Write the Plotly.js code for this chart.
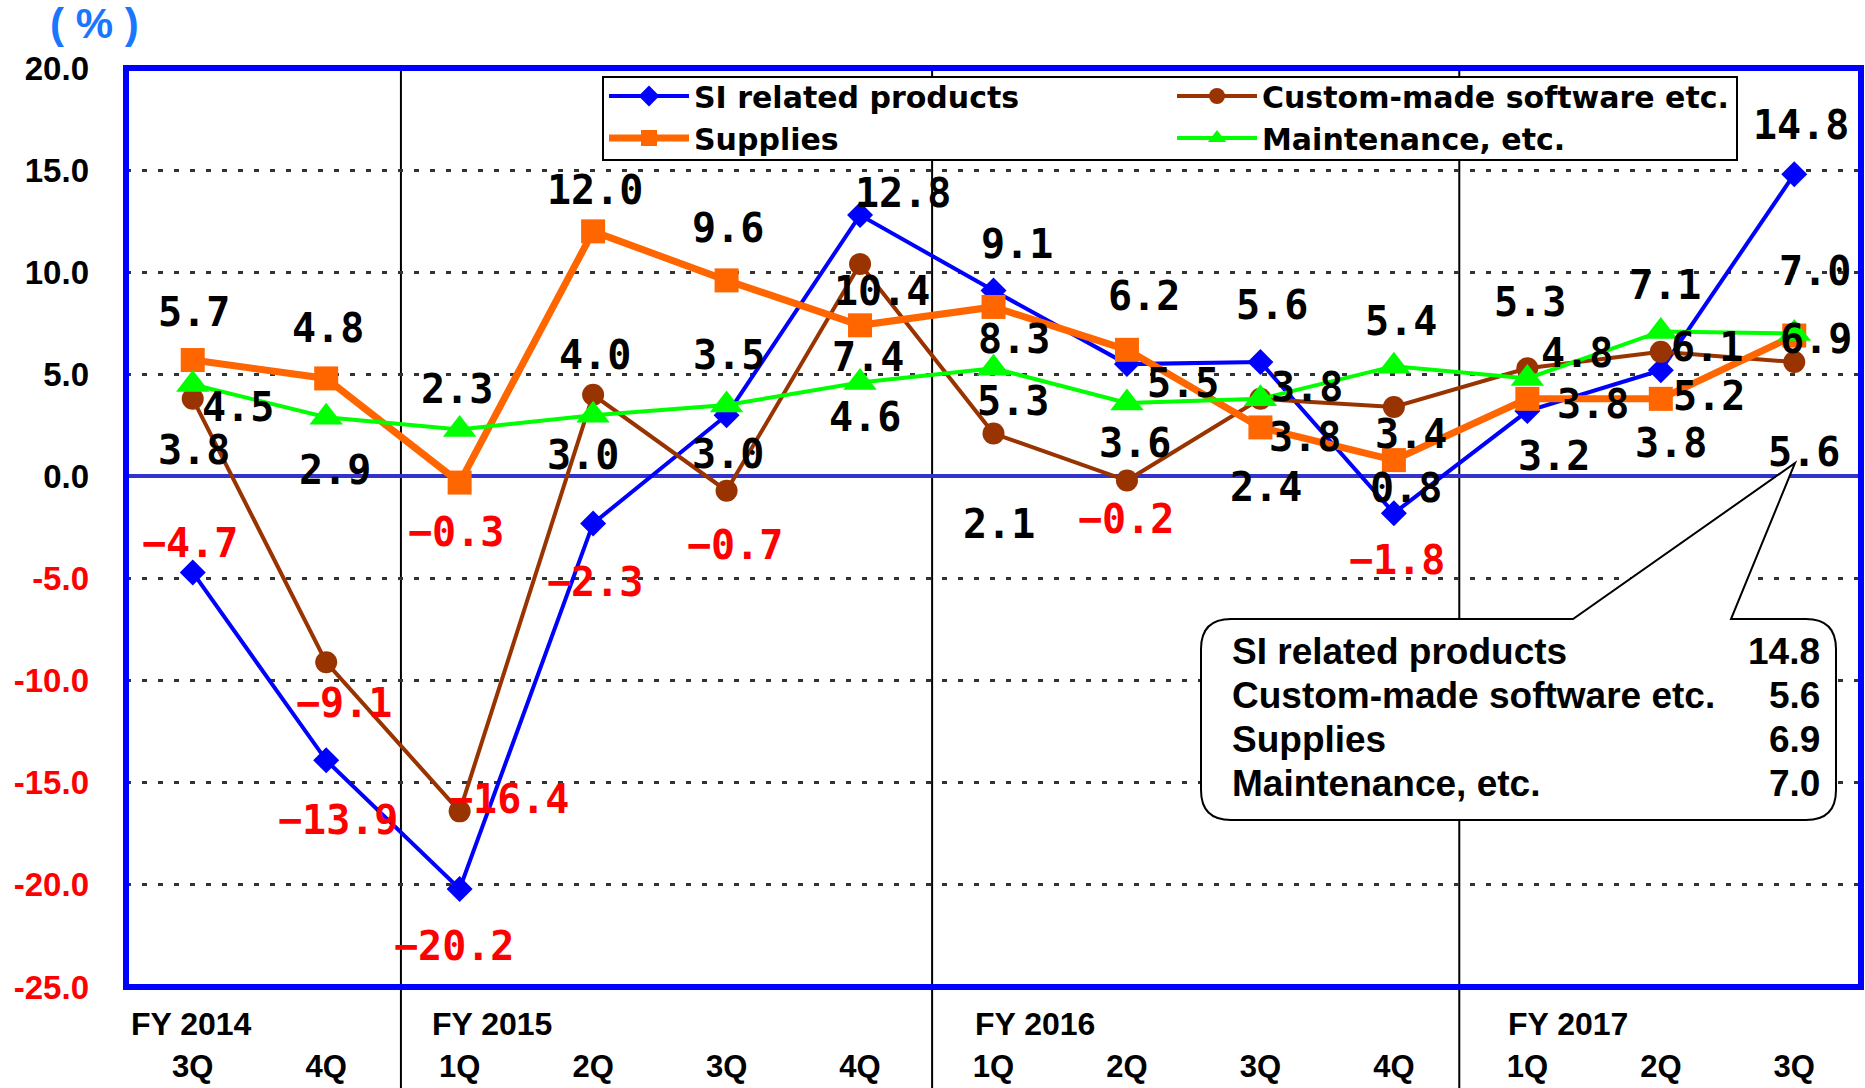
<!DOCTYPE html>
<html>
<head>
<meta charset="utf-8">
<script src="https://cdn.plot.ly/plotly-3.0.1.min.js"></script>
<style>
  html, body { margin: 0; padding: 0; background: #fff; }
  #chart { width: 1865px; height: 1088px; }
</style>
</head>
<body>
<div id="chart"></div>
<script>
"use strict";

//DATA
const quarters = ['3Q', '4Q', '1Q', '2Q', '3Q', '4Q', '1Q', '2Q', '3Q', '4Q', '1Q', '2Q', '3Q'];
const fiscalYears = ['FY 2014', 'FY 2015', 'FY 2016', 'FY 2017'];
const fyFirstQuarter = [0, 2, 6, 10];

const siProducts  = [-4.7, -13.9, -20.2, -2.3, 3.0, 12.8, 9.1, 5.5, 5.6, -1.8, 3.2, 5.2, 14.8];
const customSoft  = [3.8, -9.1, -16.4, 4.0, -0.7, 10.4, 2.1, -0.2, 3.8, 3.4, 5.3, 6.1, 5.6];
const supplies    = [5.7, 4.8, -0.3, 12.0, 9.6, 7.4, 8.3, 6.2, 2.4, 0.8, 3.8, 3.8, 6.9];
const maintenance = [4.5, 2.9, 2.3, 3.0, 3.5, 4.6, 5.3, 3.6, 3.8, 5.4, 4.8, 7.1, 7.0];

const yTicks = [20, 15, 10, 5, 0, -5, -10, -15, -20, -25];

//LABEL OFFSETS (pixels, [dx, dy] with dy down)
const siOff = [[-3,-29],[12,60],[-6,57],[2,59],[1,39],[43,-22],[23,-47],[56,19],[12,-57],[3,47],[27,45],[48,26],[7,-49]];
const csOff = [[1,51],[18,41],[49,-12],[2,-40],[8,54],[22,27],[5,90],[-1,38],[47,-12],[17,27],[3,-66],[46,-5],[10,90]];
const spOff = [[1,-48],[2,-50],[-4,49],[2,-41],[1,-52],[8,32],[20,32],[17,-54],[6,60],[12,28],[66,5],[10,44],[22,3]];
const mtOff = [[45,22],[9,53],[-3,-40],[-10,40],[2,-50],[5,34],[19,33],[8,40],[45,38],[7,-45],[50,-25],[4,-46],[21,-62]];

//GEOMETRY
const W = 1865, H = 1088;
const M = {l: 126, r: 4, t: 68, b: 101, autoexpand: false};
const PW = W - M.l - M.r, PH = H - M.t - M.b;
function px(x){ return (x - M.l) / PW; }
function py(y){ return (H - M.b - y) / PH; }

const FONT = 'Liberation Sans, Arial, sans-serif';
const WIDE = 'DejaVu Sans, Liberation Sans, sans-serif';
const MONO = 'DejaVu Sans Mono, Liberation Mono, monospace';

function fmt(v){
	return (v < 0 ? '\u2212' + Math.abs(v).toFixed(1) : v.toFixed(1));
}

function series(name, y, color, width, symbol, size, legend){
	return {
		name: name,
		x: y.map((v, i) => i),
		y: y,
		type: 'scatter',
		mode: 'lines+markers',
		line: {color: color, width: width},
		marker: {color: color, symbol: symbol, size: size},
		legend: legend,
		hoverinfo: 'skip'
	};
}

function labels(y, off){
	return y.map((v, i) => ({
		x: i, y: v, xref: 'x', yref: 'y',
		text: fmt(v), showarrow: false,
		xshift: off[i][0], yshift: -off[i][1],
		font: {family: MONO, size: 40, weight: 'bold', color: (v < 0 ? '#ff0000' : '#000000')}
	}));
}

const data = [
	series('SI related products', siProducts, '#0000ff', 4, 'diamond', 20, 'legend'),
	series('Custom-made software etc.', customSoft, '#993300', 4, 'circle', 22, 'legend2'),
	series('Supplies', supplies, '#ff6600', 7, 'square', 24, 'legend'),
	series('Maintenance, etc.', maintenance, '#00ff00', 4, 'triangle-up', 29, 'legend2')
];

let annotations = [];
annotations = annotations.concat(labels(siProducts, siOff), labels(customSoft, csOff),
	labels(supplies, spOff), labels(maintenance, mtOff));

//FY labels
const fyShift = [-64, -30, -21, -21];
fiscalYears.forEach((t, i) => {
	annotations.push({
		x: fyFirstQuarter[i], y: py(1024), xref: 'x', yref: 'paper',
		xanchor: 'left', yanchor: 'middle', xshift: fyShift[i],
		text: t, showarrow: false,
		font: {family: FONT, size: 32, weight: 'bold', color: '#000'}
	});
});

//unit
annotations.push({
	x: px(94), y: py(24), xref: 'paper', yref: 'paper',
	xanchor: 'center', yanchor: 'middle',
	text: '( % )', showarrow: false,
	font: {family: FONT, size: 42, weight: 'bold', color: '#1a75ff'}
});

//callout box with the latest values
const last = siProducts.length - 1;
const boxRows = [
	['SI related products', siProducts[last]],
	['Custom-made software etc.', customSoft[last]],
	['Supplies', supplies[last]],
	['Maintenance, etc.', maintenance[last]]
];
const rowY = [651, 695, 739, 783];
boxRows.forEach((r, i) => {
	annotations.push({
		x: px(1230), y: py(rowY[i]), xref: 'paper', yref: 'paper',
		xanchor: 'left', yanchor: 'middle', text: r[0], showarrow: false,
		font: {family: FONT, size: 37, weight: 'bold', color: '#000'}
	});
	annotations.push({
		x: px(1822), y: py(rowY[i]), xref: 'paper', yref: 'paper',
		xanchor: 'right', yanchor: 'middle', text: r[1].toFixed(1), showarrow: false,
		font: {family: FONT, size: 37, weight: 'bold', color: '#000'}
	});
});

function callout(x0, y0, x1, y1, r, b0, b1, tx, ty){
	const P = (x, y) => px(x).toFixed(5) + ',' + py(y).toFixed(5);
	return 'M' + P(x0 + r, y0) + ' L' + P(b0, y0) + ' L' + P(tx, ty) + ' L' + P(b1, y0) +
		' L' + P(x1 - r, y0) + ' Q' + P(x1, y0) + ' ' + P(x1, y0 + r) +
		' L' + P(x1, y1 - r) + ' Q' + P(x1, y1) + ' ' + P(x1 - r, y1) +
		' L' + P(x0 + r, y1) + ' Q' + P(x0, y1) + ' ' + P(x0, y1 - r) +
		' L' + P(x0, y0 + r) + ' Q' + P(x0, y0) + ' ' + P(x0 + r, y0) + ' Z';
}

const shapes = [];
//fiscal year separators
[1.56, 5.54, 9.49].forEach(c => {
	shapes.push({
		type: 'line', xref: 'paper', yref: 'paper',
		x0: (c + 0.5) / 13, x1: (c + 0.5) / 13, y0: -0.12, y1: 1,
		line: {color: '#000', width: 2}, layer: 'between'
	});
});
//frame
shapes.push({
	type: 'rect', xref: 'paper', yref: 'paper', x0: 0, x1: 1, y0: 0, y1: 1,
	line: {color: '#0000ff', width: 6}, layer: 'above'
});
//legend box (the two legends sit inside it)
shapes.push({
	type: 'rect', xref: 'paper', yref: 'paper',
	x0: px(603), x1: px(1737), y0: py(77), y1: py(160),
	fillcolor: '#ffffff', line: {color: '#000', width: 2}, layer: 'above'
});
shapes.push({
	type: 'path', xref: 'paper', yref: 'paper',
	path: callout(1201, 619, 1836, 820, 30, 1573, 1731, 1795, 463),
	fillcolor: '#ffffff', line: {color: '#000', width: 2}, layer: 'above'
});

const legendBase = {
	yanchor: 'top', xanchor: 'left', orientation: 'v',
	itemwidth: 80, bgcolor: 'rgba(0,0,0,0)', borderwidth: 0,
	font: {family: WIDE, size: 30, weight: 'bold', color: '#000'}
};

const layout = {
	width: W, height: H,
	margin: M,
	paper_bgcolor: '#fff', plot_bgcolor: '#fff',
	showlegend: true,
	legend: Object.assign({x: px(604), y: py(70)}, legendBase),
	legend2: Object.assign({x: px(1172), y: py(70)}, legendBase),
	xaxis: {
		range: [-0.5, 12.5],
		tickvals: quarters.map((q, i) => i),
		ticktext: quarters,
		ticks: '', showgrid: false, zeroline: false, showline: false,
		ticklabelstandoff: 58,
		tickfont: {family: FONT, size: 31, weight: 'bold', color: '#000'}
	},
	yaxis: {
		range: [-25, 20],
		tickvals: yTicks,
		ticktext: yTicks.map(v => v < 0 ? '<span style="color:#ff0000">' + v.toFixed(1) + '</span>' : v.toFixed(1)),
		ticks: '', showline: false,
		showgrid: true, gridcolor: '#333333', gridwidth: 3, griddash: '5px,11px',
		zeroline: true, zerolinecolor: '#3333cc', zerolinewidth: 4,
		ticklabelstandoff: 36,
		tickfont: {family: FONT, size: 33, weight: 'bold', color: '#000'}
	},
	shapes: shapes,
	annotations: annotations
};

Plotly.newPlot('chart', data, layout, {staticPlot: true});
</script>
</body>
</html>
